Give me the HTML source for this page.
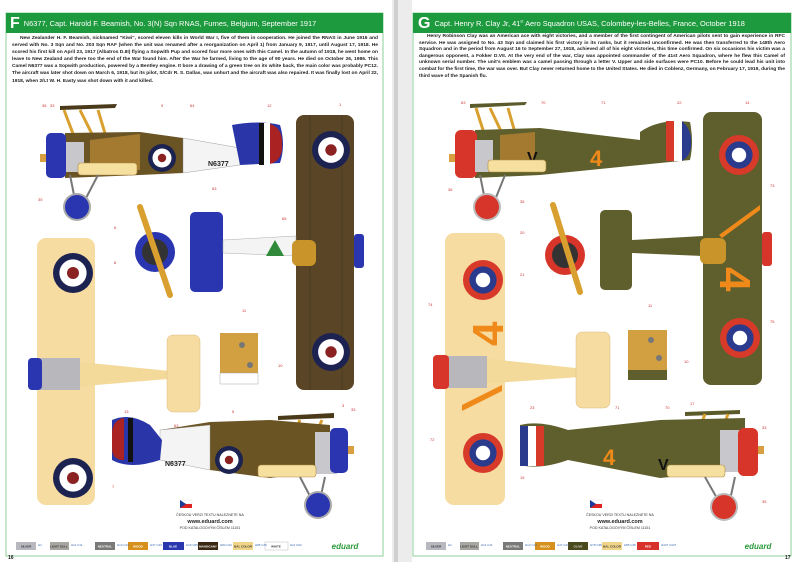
<!DOCTYPE html>
<html><head><meta charset="utf-8"><style>
body{margin:0;width:800px;height:562px;overflow:hidden;background:#fff;position:relative;font-family:"Liberation Sans",sans-serif}
.t{position:absolute;font-size:4.9px;line-height:7.1px;color:#222;text-align:justify;font-weight:bold;text-indent:8px}
.h{position:absolute;color:#fff;font-size:7.4px;white-space:nowrap}
.h b{font-size:16px;font-weight:bold;vertical-align:-2px;margin-right:4px}
</style></head><body>
<svg width="800" height="562" style="position:absolute;left:0;top:0" font-family="Liberation Sans,sans-serif">
<defs>
<g id="rafr"><circle r="1" fill="#1d2350"/><circle r="0.68" fill="#fff"/><circle r="0.3" fill="#8a2222"/></g>
<g id="usr"><circle r="1" fill="#d83a2a"/><circle r="0.68" fill="#2a3a8c"/><circle r="0.36" fill="#fff"/></g>
</defs>
<rect x="0" y="0" width="800" height="562" fill="#fff"/>
<rect x="392" y="0" width="20" height="562" fill="#ececec"/>
<rect x="394" y="0" width="4" height="562" fill="#cfcfcf"/>
<rect x="6" y="13" width="377" height="543" fill="none" stroke="#8fcf9a" stroke-width="1"/>
<rect x="413" y="13" width="378" height="543" fill="none" stroke="#8fcf9a" stroke-width="1"/>
<rect x="6" y="13" width="377" height="20" fill="#1e9a3e"/>
<rect x="413" y="13" width="378" height="20" fill="#1e9a3e"/>

<!-- LEFT PAGE -->
<path d="M60 110 L115 108 L117 104 L60 106Z" fill="#4a3a1a"/>
<path d="M64 110 L80 152 M80 110 L100 150 M98 110 L110 150" stroke="#d9a030" stroke-width="3"/>
<path d="M65 133 L140 132 L183 138 L183 173 L140 175 L65 178Z" fill="#6b5424"/>
<path d="M90 140 L140 134 L140 170 L90 170Z" fill="#a37a30"/>
<path d="M183 138 L240 148 L240 165 L183 173Z" fill="#f4f4f4" stroke="#888" stroke-width=".4"/>
<path d="M232 125 Q260 120 280 125 Q286 145 280 163 L240 165 Z" fill="#2a36a8"/>
<rect x="259" y="123" width="5" height="42" fill="#111"/><path d="M270 124 Q283 128 282 145 Q283 160 270 164Z" fill="#a22"/>
<rect x="264" y="123" width="6" height="41" fill="#fff"/>
<text x="208" y="166" font-size="7" font-weight="bold" fill="#222">N6377</text>
<use href="#rafr" transform="translate(162,158) scale(14)"/>
<rect x="46" y="133" width="20" height="45" rx="5" fill="#2b35b0"/>
<rect x="66" y="142" width="18" height="30" fill="#c8c8cc"/>
<rect x="40" y="154" width="6" height="8" fill="#d8a040"/>
<rect x="78" y="163" width="59" height="12" rx="3" fill="#f5e0a0" stroke="#b08a40" stroke-width=".6"/>
<path d="M70 175 L75 200 M98 175 L85 200" stroke="#777" stroke-width="2"/>
<circle cx="77" cy="207" r="14" fill="#aaa"/><circle cx="77" cy="207" r="12" fill="#2a35b0"/>
<rect x="296" y="115" width="58" height="275" rx="8" fill="#5a4626"/>
<g stroke="#3c2e18" stroke-width=".5"><line x1="310" y1="115" x2="310" y2="390"/><line x1="342" y1="115" x2="342" y2="390"/></g>
<use href="#rafr" transform="translate(331,150) scale(19)"/>
<use href="#rafr" transform="translate(331,352) scale(19)"/>
<rect x="190" y="212" width="33" height="80" rx="5" fill="#2a36b0"/>
<path d="M223 240 L296 236 L296 256 L223 253Z" fill="#f4f4f4" stroke="#999" stroke-width=".4"/>
<path d="M275 240 L284 256 L266 256Z" fill="#2f8a3a"/>
<rect x="292" y="240" width="24" height="26" rx="6" fill="#c9952a"/>
<rect x="354" y="234" width="10" height="34" rx="3" fill="#2a36b0"/>
<circle cx="155" cy="252" r="20" fill="#2a35b0"/><circle cx="155" cy="252" r="13" fill="#333"/>
<path d="M140 207 L170 295" stroke="#d9a030" stroke-width="6" stroke-linecap="round"/>
<rect x="37" y="238" width="58" height="267" rx="9" fill="#f6dca0"/>
<use href="#rafr" transform="translate(73,273) scale(20)"/>
<use href="#rafr" transform="translate(73,478) scale(20)"/>
<path d="M60 360 L180 372 L180 378 L60 388Z" fill="#f3d99a"/>
<rect x="167" y="335" width="33" height="77" rx="6" fill="#f6dca0" stroke="#d8bc80" stroke-width=".5"/>
<rect x="40" y="358" width="40" height="32" fill="#b8b8bc"/>
<rect x="28" y="358" width="14" height="32" rx="4" fill="#2a35b0"/>
<rect x="220" y="333" width="38" height="40" fill="#d2a040"/>
<rect x="220" y="373" width="38" height="11" fill="#fff" stroke="#999" stroke-width=".4"/>
<circle cx="242" cy="345" r="3" fill="#777"/><circle cx="250" cy="365" r="3" fill="#777"/>
<path d="M278 416 L334 413 L334 418 L278 420Z" fill="#4a3a1a"/>
<path d="M300 420 L282 460 M322 420 L305 458" stroke="#d9a030" stroke-width="3"/>
<path d="M160 430 L210 422 L270 420 L330 425 L330 470 L270 478 L210 470 L160 460Z" fill="#6b5424"/>
<path d="M160 430 L210 425 L210 470 L160 460Z" fill="#f4f4f4" stroke="#999" stroke-width=".4"/>
<path d="M112 420 Q130 412 150 425 L162 440 L160 460 Q130 470 112 460Z" fill="#2a36a8"/>
<path d="M112 432 Q113 420 124 418 L124 460 Q112 460 112 448Z" fill="#a22"/>
<rect x="128" y="418" width="5" height="44" fill="#111"/>
<text x="165" y="466" font-size="7" font-weight="bold" fill="#222">N6377</text>
<use href="#rafr" transform="translate(229,460) scale(14)"/>
<rect x="315" y="432" width="22" height="42" fill="#c8c8cc"/>
<rect x="330" y="428" width="18" height="45" rx="5" fill="#2b35b0"/>
<rect x="348" y="446" width="6" height="8" fill="#d8a040"/>
<rect x="258" y="465" width="58" height="12" rx="3" fill="#f5e0a0" stroke="#b08a40" stroke-width=".6"/>
<path d="M300 477 L312 500 M325 477 L320 500" stroke="#777" stroke-width="2"/>
<circle cx="318" cy="505" r="14" fill="#aaa"/><circle cx="318" cy="505" r="12" fill="#2a35b0"/>
<rect x="180" y="500" width="12" height="4" fill="#fff" stroke="#ccc" stroke-width=".3"/><rect x="180" y="504" width="12" height="4" fill="#d22"/><path d="M180 500 L186 504 L180 508Z" fill="#1c3c9c"/>
<text x="210" y="516" font-size="3.6" text-anchor="middle" fill="#333">ČESKOU VERZI TEXTU NALEZNETE NA</text>
<text x="210" y="523" font-size="5.5" font-weight="bold" text-anchor="middle" fill="#222">www.eduard.com</text>
<text x="210" y="529" font-size="3.6" text-anchor="middle" fill="#333">POD KATALOGOVÝM ČÍSLEM 11151</text>

<!-- RIGHT PAGE -->
<path d="M470 108 L525 105 L527 102 L470 104Z" fill="#5a5a2a"/>
<path d="M476 108 L490 152 M490 108 L510 150 M508 108 L520 150" stroke="#d9a030" stroke-width="3"/>
<path d="M475 130 L540 128 L640 140 L640 165 L540 175 L475 178Z" fill="#5e5f2c"/>
<path d="M500 135 L535 132 L535 168 L500 170Z" fill="#a37a30"/>
<path d="M640 132 Q660 118 690 122 Q694 142 690 160 L640 165Z" fill="#5e5f2c"/>
<rect x="666" y="121" width="8" height="40" fill="#d83a2a"/><rect x="674" y="121" width="8" height="40" fill="#fff"/><path d="M682 121 Q692 130 691 142 Q692 155 682 161Z" fill="#2a3a8c"/>
<text x="590" y="166" font-size="22" font-weight="bold" fill="#ef8a1a">4</text>
<text x="527" y="163" font-size="16" font-weight="bold" fill="#111">V</text>
<rect x="455" y="130" width="22" height="48" rx="6" fill="#d8352a"/>
<rect x="475" y="140" width="18" height="32" fill="#c8c8cc"/>
<rect x="449" y="154" width="6" height="8" fill="#d8a040"/>
<rect x="488" y="160" width="58" height="12" rx="3" fill="#f5e0a0" stroke="#b08a40" stroke-width=".6"/>
<path d="M480 175 L485 200 M505 175 L495 200" stroke="#777" stroke-width="2"/>
<circle cx="487" cy="207" r="14" fill="#bbb"/><circle cx="487" cy="207" r="12" fill="#d8352a"/>
<rect x="703" y="112" width="59" height="273" rx="8" fill="#5e5f2c"/>
<use href="#usr" transform="translate(739,155) scale(20)"/>
<use href="#usr" transform="translate(740,338) scale(20)"/>
<path d="M719 235 L760 205 L760 210 L722 238Z" fill="#ef8a1a"/>
<text x="712" y="305" font-size="44" font-weight="bold" fill="#ef8a1a" transform="rotate(90 735 290)">4</text>
<rect x="600" y="210" width="32" height="80" rx="5" fill="#5e5f2c"/>
<path d="M632 240 L703 236 L703 256 L632 253Z" fill="#5e5f2c"/>
<rect x="700" y="238" width="26" height="26" rx="6" fill="#c9952a"/>
<rect x="762" y="232" width="10" height="34" rx="3" fill="#d8352a"/>
<circle cx="565" cy="255" r="20" fill="#d8352a"/><circle cx="565" cy="255" r="13" fill="#333"/>
<path d="M553 205 L580 292" stroke="#d9a030" stroke-width="6" stroke-linecap="round"/>
<rect x="445" y="233" width="60" height="272" rx="9" fill="#f6dca0"/>
<use href="#usr" transform="translate(483,280) scale(20)"/>
<use href="#usr" transform="translate(483,453) scale(20)"/>
<text x="462" y="345" font-size="44" font-weight="bold" fill="#ef8a1a" transform="rotate(-90 483 325)">4</text>
<path d="M462 405 L502 385 L502 391 L462 411Z" fill="#ef8a1a"/>
<path d="M480 358 L595 370 L595 376 L480 384Z" fill="#f3d99a"/>
<rect x="576" y="332" width="34" height="76" rx="6" fill="#f6dca0" stroke="#d8bc80" stroke-width=".5"/>
<rect x="447" y="356" width="40" height="32" fill="#b8b8bc"/>
<rect x="433" y="355" width="16" height="34" rx="4" fill="#d8352a"/>
<rect x="628" y="330" width="39" height="40" fill="#d2a040"/>
<rect x="628" y="370" width="39" height="10" fill="#5e5f2c"/>
<circle cx="651" cy="340" r="3" fill="#777"/><circle cx="659" cy="358" r="3" fill="#777"/>
<path d="M685 412 L740 410 L740 414 L685 416Z" fill="#5a5a2a"/>
<path d="M705 414 L688 460 M728 414 L712 458" stroke="#d9a030" stroke-width="3"/>
<path d="M568 430 L660 420 L745 418 L745 470 L660 478 L568 460Z" fill="#5e5f2c"/>
<path d="M520 425 Q540 420 568 430 L568 460 Q540 470 520 465Z" fill="#5e5f2c"/>
<rect x="520" y="426" width="8" height="40" fill="#2a3a8c"/><rect x="528" y="426" width="8" height="40" fill="#fff"/><rect x="536" y="426" width="8" height="40" fill="#d83a2a"/>
<text x="603" y="465" font-size="22" font-weight="bold" fill="#ef8a1a">4</text>
<text x="658" y="470" font-size="16" font-weight="bold" fill="#111">V</text>
<rect x="720" y="430" width="22" height="42" fill="#c8c8cc"/>
<rect x="738" y="428" width="20" height="48" rx="6" fill="#d8352a"/>
<rect x="758" y="446" width="6" height="8" fill="#d8a040"/>
<rect x="667" y="465" width="58" height="12" rx="3" fill="#f5e0a0" stroke="#b08a40" stroke-width=".6"/>
<path d="M705 477 L718 500 M735 477 L730 500" stroke="#777" stroke-width="2"/>
<circle cx="724" cy="507" r="14" fill="#bbb"/><circle cx="724" cy="507" r="12" fill="#d8352a"/>
<rect x="590" y="500" width="12" height="4" fill="#fff" stroke="#ccc" stroke-width=".3"/><rect x="590" y="504" width="12" height="4" fill="#d22"/><path d="M590 500 L596 504 L590 508Z" fill="#1c3c9c"/>
<text x="620" y="516" font-size="3.6" text-anchor="middle" fill="#333">ČESKOU VERZI TEXTU NALEZNETE NA</text>
<text x="620" y="523" font-size="5.5" font-weight="bold" text-anchor="middle" fill="#222">www.eduard.com</text>
<text x="620" y="529" font-size="3.6" text-anchor="middle" fill="#333">POD KATALOGOVÝM ČÍSLEM 11151</text>

<g font-size="3" text-anchor="middle" font-weight="bold">
<rect x="16" y="542" width="20" height="8" fill="#b8b8c0"/><text x="26" y="547.5" fill="#333">SILVER</text>
<rect x="50" y="542" width="19" height="8" fill="#a8a6a0"/><text x="59" y="547.5" fill="#333">LIGHT GULL</text>
<rect x="95" y="542" width="20" height="8" fill="#7a7a78"/><text x="105" y="547.5" fill="#fff">NEUTRAL</text>
<rect x="128" y="542" width="20" height="8" fill="#d8901c"/><text x="138" y="547.5" fill="#fff">WOOD</text>
<rect x="163" y="542" width="21" height="8" fill="#2a38b0"/><text x="173" y="547.5" fill="#fff">BLUE</text>
<rect x="198" y="542" width="20" height="8" fill="#3a2812"/><text x="208" y="547.5" fill="#fff">MAHOGANY</text>
<rect x="233" y="542" width="20" height="8" fill="#f0d488"/><text x="243" y="547.5" fill="#333">BAL COLOR</text>
<rect x="265" y="542" width="23" height="8" fill="#fff" stroke="#aaa" stroke-width=".4"/><text x="276" y="547.5" fill="#333">WHITE</text>
<rect x="426" y="542" width="20" height="8" fill="#b8b8c0"/><text x="436" y="547.5" fill="#333">SILVER</text>
<rect x="460" y="542" width="19" height="8" fill="#a8a6a0"/><text x="469" y="547.5" fill="#333">LIGHT GULL</text>
<rect x="503" y="542" width="20" height="8" fill="#7a7a78"/><text x="513" y="547.5" fill="#fff">NEUTRAL</text>
<rect x="535" y="542" width="20" height="8" fill="#d8901c"/><text x="545" y="547.5" fill="#fff">WOOD</text>
<rect x="568" y="542" width="20" height="8" fill="#4a4a1c"/><text x="578" y="547.5" fill="#ddd">OLIVE</text>
<rect x="602" y="542" width="20" height="8" fill="#f0d488"/><text x="612" y="547.5" fill="#333">BAL COLOR</text>
<rect x="637" y="542" width="22" height="8" fill="#d8302a"/><text x="648" y="547.5" fill="#fff">RED</text>
</g>
<g font-size="3" fill="#3a6ab0"><text x="38" y="546">H1</text><text x="71" y="546">H11 C11</text><text x="117" y="546">H13 C13</text><text x="150" y="546">H37 C43</text><text x="186" y="546">H15 C65</text><text x="220" y="546">H84 C42</text><text x="255" y="546">H85 C45</text><text x="290" y="546">H11 C62</text>
<text x="448" y="546">H1</text><text x="481" y="546">H11 C11</text><text x="525" y="546">H13 C13</text><text x="557" y="546">H37 C43</text><text x="590" y="546">H78 C38</text><text x="624" y="546">H85 C45</text><text x="661" y="546">H327 C327</text></g>
<text x="345" y="549" font-size="8" font-style="italic" font-weight="bold" fill="#2a9a3a" text-anchor="middle">eduard</text>
<text x="758" y="549" font-size="8" font-style="italic" font-weight="bold" fill="#2a9a3a" text-anchor="middle">eduard</text>
<text x="8" y="559" font-size="5" font-weight="bold" fill="#222">16</text>
<text x="785" y="559" font-size="5" font-weight="bold" fill="#222">17</text>
<g font-size="4" fill="#c33"><text x="42" y="107">36</text><text x="50" y="107">33</text><text x="161" y="107">9</text><text x="190" y="107">64</text><text x="267" y="107">12</text><text x="339" y="106">1</text><text x="38" y="201">35</text><text x="114" y="229">6</text><text x="114" y="264">8</text><text x="282" y="220">65</text><text x="242" y="312">11</text><text x="278" y="367">10</text><text x="342" y="407">3</text><text x="351" y="411">33</text><text x="124" y="413">13</text><text x="232" y="413">5</text><text x="174" y="427">63</text><text x="112" y="488">7</text><text x="212" y="190">63</text>
<text x="461" y="104">63</text><text x="541" y="104">70</text><text x="601" y="104">71</text><text x="677" y="104">22</text><text x="745" y="104">14</text><text x="448" y="191">36</text><text x="520" y="203">35</text><text x="520" y="234">20</text><text x="520" y="276">21</text><text x="428" y="306">74</text><text x="770" y="187">73</text><text x="770" y="323">75</text><text x="648" y="307">11</text><text x="684" y="363">10</text><text x="690" y="405">17</text><text x="530" y="409">23</text><text x="615" y="409">71</text><text x="665" y="409">70</text><text x="430" y="441">72</text><text x="520" y="479">19</text><text x="762" y="429">33</text><text x="762" y="503">35</text></g>
</svg>
<div class="h" style="left:10px;top:15px"><b>F</b>N6377, Capt. Harold F. Beamish, No. 3(N) Sqn RNAS, Furnes, Belgium, September 1917</div>
<div class="h" style="left:418px;top:15px"><b>G</b>Capt. Henry R. Clay Jr, 41<sup style="font-size:4px">st</sup> Aero Squadron USAS, Colombey-les-Belles, France, October 1918</div>
<div class="t" style="left:12px;top:35px;width:366px">New Zealander H. F. Beamish, nicknamed "Kiwi", scored eleven kills in World War I, five of them in cooperation. He joined the RNAS in June 1916 and served with No. 3 Sqn and No. 203 Sqn RAF (when the unit was renamed after a reorganization on April 1) from January 9, 1917, until August 17, 1918. He scored his first kill on April 23, 1917 (Albatros D.III) flying a Sopwith Pup and scored four more ones with this Camel. In the autumn of 1918, he went home on leave to New Zealand and there too the end of the War found him. After the War he farmed, living to the age of 90 years. He died on October 26, 1986. This Camel N6377 was a Sopwith production, powered by a Bentley engine. It bore a drawing of a green tree on its white back, the main color was probably PC12. The aircraft was later shot down on March 6, 1918, but its pilot, S/Cdr R. S. Dallas, was unhurt and the aircraft was also repaired. It was finally lost on April 22, 1918, when 2/Lt W. H. Easty was shot down with it and killed.</div>
<div class="t" style="left:419px;top:34px;width:366px;line-height:6.6px">Henry Robinson Clay was an American ace with eight victories, and a member of the first contingent of American pilots sent to gain experience in RFC service. He was assigned to No. 43 Sqn and claimed his first victory in its ranks, but it remained unconfirmed. He was then transferred to the 148th Aero Squadron and in the period from August 16 to September 27, 1918, achieved all of his eight victories, this time confirmed. On six occasions his victim was a dangerous opponent, a Fokker D.VII. At the very end of the war, Clay was appointed commander of the 41st Aero Squadron, where he flew this Camel of unknown serial number. The unit's emblem was a camel passing through a letter V. Upper and side surfaces were PC10. Before he could lead his unit into combat for the first time, the war was over. But Clay never returned home to the United States. He died in Coblenz, Germany, on February 17, 1919, during the third wave of the Spanish flu.</div>
</body></html>
